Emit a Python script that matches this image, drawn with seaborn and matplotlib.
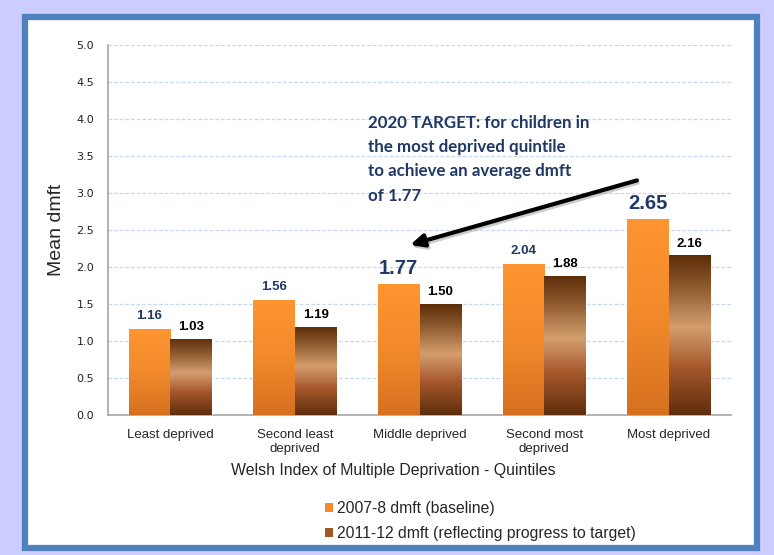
import numpy as np
import pandas as pd
import matplotlib
matplotlib.use("Agg")
import matplotlib.pyplot as plt
from matplotlib.colors import LinearSegmentedColormap
from matplotlib.patches import Rectangle, Patch
import seaborn as sns

categories = ["Least deprived", "Second least\ndeprived", "Middle deprived",
              "Second most\ndeprived", "Most deprived"]
baseline = [1.16, 1.56, 1.77, 2.04, 2.65]
recent = [1.03, 1.19, 1.50, 1.88, 2.16]
series_names = ["2007-8 dmft (baseline)", "2011-12 dmft (reflecting progress to target)"]
yticks = [0.0, 0.5, 1.0, 1.5, 2.0, 2.5, 3.0, 3.5, 4.0, 4.5, 5.0]
highlight = {2: 14.5, 4: 14.5}   # baseline labels drawn larger

df = pd.DataFrame({
    "Quintile": categories * 2,
    "Mean dmft": baseline + recent,
    "Series": [series_names[0]] * 5 + [series_names[1]] * 5,
})

sns.set_style("white")
plt.rcParams["font.family"] = ["Liberation Sans", "DejaVu Sans"]

fig = plt.figure(figsize=(7.74, 5.55), dpi=100)
fig.patch.set_facecolor("#CCCCFF")
# white panel with blue frame
fig.patches.append(Rectangle((25 / 774, 1 - 548 / 555), 732 / 774, 531 / 555,
                             transform=fig.transFigure, facecolor="white",
                             edgecolor="#4F81BD", linewidth=4.5, zorder=-10))

ax = fig.add_axes([108 / 774, 1 - 415 / 555, 623 / 774, 370 / 555])
ax.set_facecolor("none")
ax.set_zorder(2)

orange = "#F68A2A"
brown = "#A0582A"
sns.barplot(data=df, x="Quintile", y="Mean dmft", hue="Series",
            palette=[orange, brown], width=0.667, saturation=1,
            ax=ax, legend=False, zorder=3)

orange_cmap = LinearSegmentedColormap.from_list("o", ["#FF9530", "#F28A2C", "#D5701F"])
brown_cmap = LinearSegmentedColormap.from_list(
    "b", [(0.0, "#5C2D08"), (0.2, "#8E5A2E"), (0.45, "#D49E6E"),
          (0.7, "#A6582C"), (1.0, "#5E2E0C")])
grad = np.linspace(0, 1, 256).reshape(-1, 1)

patches = list(ax.patches)
for i, p in enumerate(patches):
    x, w, h = p.get_x(), p.get_width(), p.get_height()
    cmap = orange_cmap if i < 5 else brown_cmap
    im = ax.imshow(grad, cmap=cmap, extent=[x, x + w, 0, h], origin="upper",
                   aspect="auto", zorder=3.5, interpolation="bilinear")
    im.set_clip_path(p)

ax.set_xlim(-0.5, 4.5)
ax.set_ylim(0, 5.0)
ax.set_yticks(yticks)
ax.set_yticklabels([f"{v:.1f}" for v in yticks], fontsize=8, family="DejaVu Sans",
                   color="#222222")
ax.tick_params(axis="y", length=0, pad=10)
ax.tick_params(axis="x", length=0, pad=10, labelsize=9.5)
for v in yticks[1:]:
    ax.axhline(v, color="#C6D9F1", lw=0.9, ls=(0, (3, 1.5)), zorder=1)

for s in ["top", "right"]:
    ax.spines[s].set_visible(False)
for s in ["left", "bottom"]:
    ax.spines[s].set_color("#A6A6A6")
    ax.spines[s].set_linewidth(1.2)

ax.set_ylabel("Mean dmft", fontsize=14, labelpad=8)
ax.set_xlabel("Welsh Index of Multiple Deprivation - Quintiles", fontsize=11.4)
ax.xaxis.set_label_coords((393 - 108) / 623, -(470 - 415) / 370)
ax.xaxis.label.set_va("center")

# value labels
for i, p in enumerate(patches):
    val = baseline[i] if i < 5 else recent[i - 5]
    cx = p.get_x() + p.get_width() / 2
    if i < 5:
        fs = highlight.get(i, 9.5)
        color = "#1F3864"
        off = 4 if i in highlight else 5
    else:
        fs, color, off = 9.5, "black", 4
    ax.annotate(f"{val:.2f}", (cx, val), xytext=(0, off), textcoords="offset points",
                ha="center", va="bottom", fontsize=fs, fontweight="bold", color=color,
                zorder=6)

# target annotation with arrow
ax.text(1.587, 4.06, "2020 TARGET: for children in\nthe most deprived quintile\n"
        "to achieve an average dmft\nof 1.77", ha="left", va="top", fontsize=12.2,
        fontweight="bold", color="#1F3864", family=["Lato", "DejaVu Sans"],
        linespacing=1.65, zorder=6)
ax.annotate("", xy=(1.935, 2.27), xytext=(3.75, 3.14),
            arrowprops=dict(arrowstyle="-|>,head_length=0.8,head_width=0.38",
                            color="#9A9A9A", lw=3.2, alpha=0.5,
                            shrinkA=0, shrinkB=0),
            zorder=5)
ax.annotate("", xy=(1.925, 2.30), xytext=(3.745, 3.17),
            arrowprops=dict(arrowstyle="-|>,head_length=0.8,head_width=0.38",
                            color="black", lw=3, shrinkA=0, shrinkB=0),
            zorder=6)

handles = [Patch(facecolor=orange, edgecolor="none"),
           Patch(facecolor=brown, edgecolor="none")]
fig.legend(handles, series_names, loc="upper left",
           bbox_to_anchor=(317 / 774, 1 - 493 / 555), frameon=False,
           fontsize=11.3, handlelength=0.55, handleheight=0.55, handletextpad=0.25,
           labelspacing=0.65, borderpad=0)

fig.savefig("out.png", dpi=100, facecolor=fig.get_facecolor())
